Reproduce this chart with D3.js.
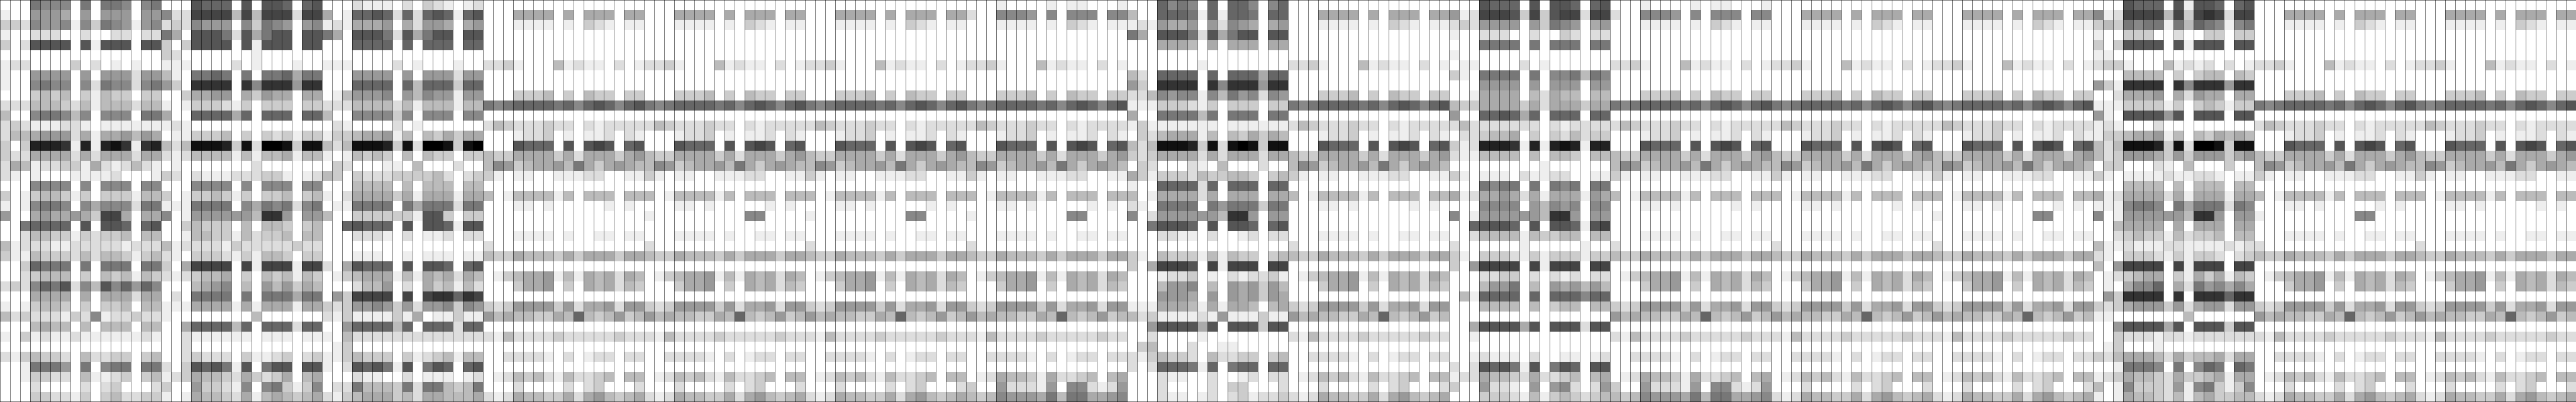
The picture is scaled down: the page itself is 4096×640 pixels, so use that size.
<!DOCTYPE html>
<html><head><meta charset="utf-8">
<script src="https://cdn.jsdelivr.net/npm/d3@7"></script>
<style>html,body{margin:0;padding:0;background:#fff;overflow:hidden}svg{display:block}</style>
</head><body><div id="chart"></div>
<script>
// Gray levels, hex digit 0 (white) .. f (black); 40 rows x 16 columns per block
const block0 = ["0008777080887078","1006665060666066","3327667173876167","1002220020022022","302aaaa0a1aaa0aa","0000000000000000","1220000302010100","1006666060666266","1007877072877278","0003434031433033","2224443241444244","4007887470777088","2321112210111111","2445666251556465","303dddc1d1dec1cd","3225555252555255","2541223315212421","2101000111120001","0007777070777077","3013443130333144","1017887075777288","6005655653bb5055","00899990a0aa909a","0024433132334044","4122211222221222","3114333242443134","0039888080888088","0023444030434143","232798a274a79697","0005555050555255","1013443030334044","4232221327122322","0004544040444044","1031211211111121","0000000000000000","2134332042233034","0018886080788088","0013322041123034","0002000020230002","0003322130342233"];
const block1 = ["000a9990a0aa909a","722bbbb4b4bbb2bb","2327666073876067","850aaa82a58aa0aa","303aaaa0a1aaa0aa","3200000001000000","1110000201000100","4108898080889588","630cccc0c7ccc6cc","0035566053655055","1013332130333033","5009999590999099","1210000000000000","0113334030323133","424eeed3e2ffe3ee","2124444141445144","0100000002000000","3202111222331012","0007777070777077","3013343130334034","1118888075878278","7016666664cc6066","0034333040443034","0014433142334044","4122221322222322","2103332131443033","305bbbb0b1bbb1bb","2123445030434143","0004567040646354","0208888080888588","1115555151555155","1000000004000000","0059999490999299","0021111110111011","0020000000000000","0023222031123023","203a9a81a08aa0aa","1235443253235045","3006332170783137","1015443251454345"];
const block2 = ["0002111020321012","50199a92929a919a","1215556052665056","850aaa82a58aa0aa","0009999090999099","0000000000000000","1110000201000100","0006666060666266","0009999094999399","0146667064766166","2224444241444144","4007777370777077","0210000201000000","1334556140435355","424eeed3e2ffe3ef","1014343040433033","0320001104000200","4303222333342023","0004444040444044","1025555351555155","0118888085888288","4003333331aa3033","009a9990a0aa91aa","0002221020112022","0000000000000000","0001110010111011","205a9990a0aa909a","0134555141545254","0002446020534142","063bbbb0b0bcc9cb","3236676362667376","2131111315011311","0069999490999299","1042222222222222","0130000000000000","1134333031234144","102a9a81a08a909a","0002110020111012","0228444382884348","2134555342554445"];
const block7 = ["0009787090997079","4009998191998099","1216556062765056","850aaa82a58aa0aa","0005554050555055","0000000000000000","0000000100000000","4209999090999599","630cccc0c7ccc6cc","2247677174867276","1113332130333033","5008888480888088","1311111110111111","0324555140435354","424eeed3e2efe3ee","3235555252555255","0320002104000200","5313332433443034","1009999290999099","4015555250555055","2108888086888388","7026666664cc6066","008aaa90a0aa909a","0002211020012022","0000000000000000","3104333141433034","305bbba0b1bbb0bb","0001223010212231","0004667040656364","0006665060656365","1115554151554045","4231111216111311","006aaaa5a0aaa3aa","0020000100000000","0340002001100000","2134332042233034","2029998190899099","0002110020012022","0002000020330002","0002110120231223"];
const block9 = ["000a9990a0aa909a","612bbba3b3abb2bb","2326666063876056","1002220020032022","0008888080888088","1000000000000000","0110000201000000","3108888080778487","0006666060666066","0015555042544044","4335555352555355","60099a9590999099","2422222220212222","0223445030324233","312dddc1d1ded1dd","2114444040443044","0000000001000000","3101110211220011","0008788080878088","5125565251555165","0007777064767077","7016666664cc6066","009aaa90a0aa91ab","0024444143344044","2000000100000100","3103332131333133","306bbbb0b1bbb0bb","0002233020212022","0004668040656464","0419999090999799","0004444040344044","0000000000000000","005aaaa5a0aaa2aa","0010000000000000","0000000000000000","0012111020011012","202a9a81a08a90aa","1225443252234045","3006221060672026","0003332141343234"];
const block13 = ["000a9990a1aa909a","712bbbb4b3bcb2bb","3438788184987178","1003330020033033","303aaaa0a1aaa0aa","1100000000000000","2331000412120201","0004444030344043","631cccc0c7ccc6cc","0025556052655055","1113333130343133","610aaaa6a0aaa0aa","1210002000000000","1334556140435454","424eeed3e2ffe3ee","4236665363666356","0330002104000300","3101111211221011","0004444040444044","5125555251555155","1117887085888287","7016666664cc6066","0045555050555055","0023433142334044","4112111221111212","2103332131332023","406bbbb0b1bbb0bb","0123455031535143","0105779052867575","063cccc0c0ccc9cc","3235666362566266","1100000004000000","006aaaa5a0aaa3aa","0032221221222222","0130001000000000","3245554253445255","0018887080798098","1235443253345155","4017333261783137","1015443241453344"];
const lightRows = ["0000000000000000","0005555050555055","0001111010321011","0000000000000000","0000000000000000","0000000000000000","2231000412110201","0000000000000000","0000000000000000","0003334030433033","87899998979a979a","0000000000000000","2432223220212222","0001223010112021","000a9990a0aba09a","4335555352555356","4763455648535654","3101100111220011","0000000000000000","4014444140444044","0001101000001010","0000000000000000","0000000000000000","0001111010011011","2000000000000000","4335444353555355","0000000000000000","0134556141545254","0003556030545243","0000000000000000","3236666362556266","6454433549434634","0000000000000000","2142222322222322","0000000000000000","0022221020122022","0000000000000000","0124342142234044","0002000020230002","2125443352564345"];
// Alternate rows of the blocks with a darker lower edge
const heavyRow0 = "0001000010110001";
const heavyRow1 = "2007776070777077";
const heavyRow37 = "0125443152234045";
const heavyRow38 = "3006222160772126";
const heavyRow39 = "4347666584885567";
const markedRow21 = "1000000000770000";
const heavyBlocks = [6, 10];
const markedBlocks = [4, 5, 6, 12, 14];
const darkBlocks = {0: block0, 1: block1, 2: block2, 7: block7, 9: block9, 13: block13};
const blockCount = 16, blockCols = 16, rowCount = 40;

const W = 4096, H = 640;
const x = d3.scaleLinear().domain([0, blockCount * blockCols]).range([0, W]);
const y = d3.scaleLinear().domain([0, rowCount]).range([0, H]);
const gray = d3.scaleLinear().domain([0, 15]).range(["#ffffff", "#000000"]);
const lineW = 0.5333;

function rowsFor(b) {
  if (darkBlocks[b]) return darkBlocks[b];
  const r = lightRows.slice();
  if (markedBlocks.includes(b)) r[21] = markedRow21;
  if (heavyBlocks.includes(b)) {
    r[0] = heavyRow0; r[1] = heavyRow1; r[37] = heavyRow37; r[38] = heavyRow38; r[39] = heavyRow39;
  }
  return r;
}
const cells = [];
d3.range(blockCount).forEach(b => {
  const rows = rowsFor(b);
  rows.forEach((s, r) => {
    d3.range(blockCols).forEach(c => {
      cells.push({col: b * blockCols + c, row: r, v: parseInt(s[c], 16) || 0});
    });
  });
});

const svg = d3.select("#chart").append("svg").attr("width", W).attr("height", H);
svg.append("g").attr("shape-rendering", "crispEdges").selectAll("rect").data(cells).join("rect")
  .attr("x", d => x(d.col)).attr("y", d => y(d.row))
  .attr("width", x(1) - x(0)).attr("height", y(1) - y(0))
  .attr("fill", d => gray(d.v));
svg.append("g").selectAll("rect").data(d3.range(blockCount * blockCols)).join("rect")
  .attr("x", d => x(d)).attr("y", 0).attr("width", lineW).attr("height", H).attr("fill", "#000");
svg.append("rect").attr("x", 0).attr("y", 0).attr("width", W).attr("height", lineW).attr("fill", "#000");
svg.append("rect").attr("x", 0).attr("y", H - lineW).attr("width", W).attr("height", lineW).attr("fill", "#000");
</script>
</body></html>
